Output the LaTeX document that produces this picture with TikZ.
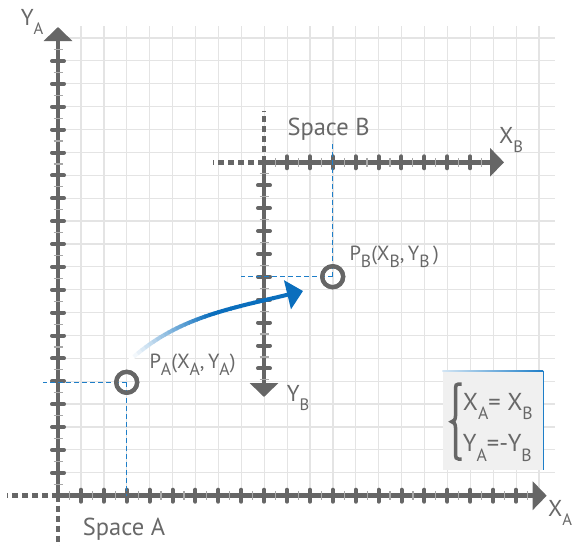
\documentclass[tikz,border=0pt]{standalone}
\usepackage{fontspec}
\setmainfont{PT Sans}
\usepackage{graphicx}
\usetikzlibrary{arrows.meta}
\definecolor{axisgray}{HTML}{666666}
\definecolor{minorgray}{HTML}{A8A8A8}
\definecolor{gridgray}{HTML}{E4E4E4}
\definecolor{dashblue}{HTML}{1E7EC8}
\definecolor{arrowblue}{HTML}{0A6EBD}
\definecolor{boxfill}{HTML}{F0F0F0}
\definecolor{textgray}{HTML}{686868}
\newcommand\lsub[2][0.72]{\raisebox{-0.4em}{\scalebox{#1}{#2}}}
\newcommand\psub[1]{\raisebox{-0.36em}{\scalebox{0.86}{#1}}}
\begin{document}
\begin{tikzpicture}[x=1pt,y=-1pt,
  gridline/.style={gridgray, line width=1.2pt},
  axisline/.style={axisgray, line width=4.5pt},
  axisarrow/.style={axisline, -{Triangle[length=14pt,width=28pt]}},
  axisdash/.style={axisgray, line width=4.5pt, dash pattern=on 6pt off 4pt},
  majortick/.style={axisgray, line width=4pt, line cap=round},
  minortick/.style={minorgray, line width=1.2pt},
  guide/.style={dashblue, line width=1.5pt, dash pattern=on 5pt off 3pt},
  pointmark/.style={circle, draw=axisgray, line width=4.2pt, minimum size=21pt, inner sep=0pt},
  lbl/.style={textgray, inner sep=0pt, anchor=base west},
  bigfont/.style={font=\fontsize{24.5}{28}\selectfont},
  axfont/.style={font=\fontsize{23}{27}\selectfont},
  ptfont/.style={font=\fontsize{20.5}{24}\selectfont},
]
\useasboundingbox (0,0) rectangle (579,546);
% grid
\foreach \k in {0,...,19} \draw[gridline] (58,{38+22.88*\k}) -- (555,{38+22.88*\k});
\foreach \k in {0,...,20} \draw[gridline] ({81+22.9*\k},26) -- ({81+22.9*\k},495.7);

% equation box
\node[fill=boxfill, minimum width=100.4pt, minimum height=99.3pt, inner sep=0pt, anchor=north west] (eqbox) at (442.3,370.7) {};
\shade[left color=dashblue!20, right color=dashblue] ([yshift=0.6pt]eqbox.north west) rectangle ([yshift=-0.6pt]eqbox.north east);
\draw[dashblue, line width=1.2pt] (eqbox.north east) -- (eqbox.south east);

% Space A axes
\coordinate (OA) at (58,495.7);
\coordinate (YAtip) at (58,27);
\coordinate (XAtip) at (546.7,495.7);
\coordinate (XAleft) at (7,495.7);
\coordinate (YAdown) at (58,546);
\draw[axisdash] (OA) -- (XAleft);
\draw[axisdash] (OA) -- (YAdown);
\draw[axisarrow] (OA) -- (YAtip);
\draw[axisarrow] (OA) -- (XAtip);
\foreach \k in {1,...,19} \draw[majortick] (52,{495.7-22.88*\k}) -- (64,{495.7-22.88*\k});
\foreach \k in {1,...,20} \draw[minortick] (53.5,{495.7-22.88*(\k-0.5)}) -- (62.5,{495.7-22.88*(\k-0.5)});
\foreach \k in {1,...,20} \draw[majortick] ({58+22.9*\k},489.7) -- ({58+22.9*\k},501.7);
\foreach \k in {1,...,21} \draw[minortick] ({58+22.9*(\k-0.5)},491.2) -- ({58+22.9*(\k-0.5)},500.2);

% Space B axes
\coordinate (OB) at (264,162.3);
\coordinate (YBtip) at (264,397);
\coordinate (XBtip) at (504,162.3);
\coordinate (XBleft) at (213,162.3);
\coordinate (YBup) at (264,111);
\draw[axisdash] (OB) -- (XBleft);
\draw[axisdash] (OB) -- (YBup);
\draw[axisarrow] (OB) -- (YBtip);
\draw[axisarrow] (OB) -- (XBtip);
\foreach \k in {1,...,9} \draw[majortick] (258,{162.3+22.9*\k}) -- (270,{162.3+22.9*\k});
\foreach \k in {1,...,10} \draw[minortick] (259.5,{162.3+22.9*(\k-0.5)}) -- (268.5,{162.3+22.9*(\k-0.5)});
\foreach \k in {1,...,9} \draw[majortick] ({264+22.9*\k},156.3) -- ({264+22.9*\k},168.3);
\foreach \k in {1,...,10} \draw[minortick] ({264+22.9*(\k-0.5)},157.8) -- ({264+22.9*(\k-0.5)},166.8);

% points and guides
\node[pointmark] (PA) at (126.7,382.3) {};
\node[pointmark] (PB) at (332.7,276.7) {};
\coordinate (PAleft) at (43,382.3);
\coordinate (PAdown) at (126.7,495.7);
\coordinate (PBleft) at (240.7,276.7);
\coordinate (PBup) at (332.7,140.7);
\draw[guide] (PA.center) -- (PAleft);
\draw[guide] (PA.center) -- (PAdown);
\draw[guide] (PB.center) -- (PBleft);
\draw[guide] (PB.center) -- (PBup);
\node[pointmark] at (PA) {};
\node[pointmark] at (PB) {};

% curved mapping arrow with fading start
\coordinate (cs) at (130,360);
\coordinate (ct) at (303,291);
\coordinate (c1) at (180,315);
\coordinate (c2) at (233,308.5);
\foreach \i in {0,...,34} {
  \pgfmathsetmacro\ta{\i/40}
  \pgfmathsetmacro\tb{(\i+1.15)/40}
  \pgfmathtruncatemacro\pc{min(100,100*\i/20)}
  \path (cs) .. controls (c1) and (c2) .. (ct) coordinate[pos=\ta] (ua) coordinate[pos=\tb] (ub);
  \draw[arrowblue!\pc!white, line width=4pt] (ua) -- (ub);
}
\path (cs) .. controls (c1) and (c2) .. (ct) coordinate[pos=0.875] (ue);
\draw[arrowblue, line width=4pt, -{Triangle[length=16pt,width=29pt]}] (ue) -- (ct);

% labels
\node[lbl, axfont] (ya) at (20.7,25) {Y\lsub{A}};
\node[lbl, axfont] (xa) at (548,516.7) {X\lsub{A}};
\node[lbl, axfont] (xb) at (499,143.3) {X\lsub{B}};
\node[lbl, axfont] (yb) at (286.7,401.7) {Y\lsub{B}};
\node[lbl, bigfont] (spa) at (82.7,535) {Space A};
\node[lbl, bigfont] (spb) at (287.3,135.7) {Space B};
\node[lbl, ptfont] (pal) at (149.3,368.3) {P\psub{A}(X\psub{A},\,Y\psub{A})};
\node[lbl, ptfont] (pbl) at (349.3,260) {P\psub{B}(X\psub{B},\,Y\psub{B}\,)};

% equations
\draw[axisgray, line width=3.5pt] (461.5,384) -- (458.5,384) .. controls (456.3,384) and (455.5,385.5) .. (455.5,388) -- (455.5,416) .. controls (455.5,419.5) and (453.8,421.7) .. (451.7,421.7) .. controls (453.8,421.7) and (455.5,424) .. (455.5,427.5) -- (455.5,455) .. controls (455.5,457.5) and (456.3,459) .. (458.5,459) -- (461.5,459);
\node[lbl, bigfont] (eq1) at (462.7,410) {X\lsub{A}= X\lsub{B}};
\node[lbl, bigfont] (eq2) at (462.7,451.7) {Y\lsub{A}=-Y\lsub{B}};
\end{tikzpicture}
\end{document}
